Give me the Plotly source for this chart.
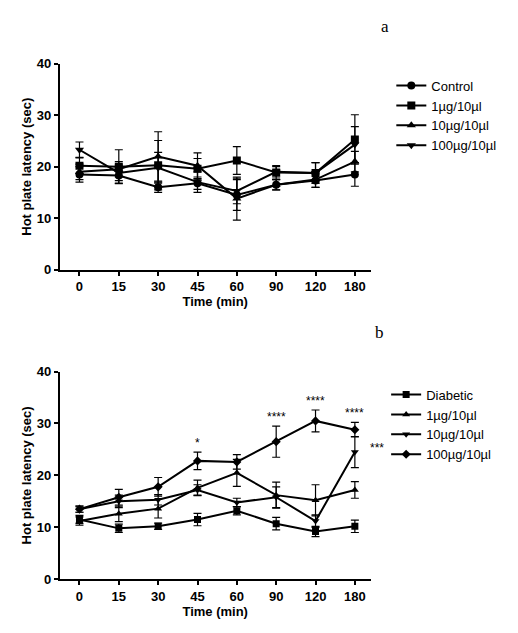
import plotly.graph_objects as go

times = ["0", "15", "30", "45", "60", "90", "120", "180"]

a_names = ["Control", "1µg/10µl", "10µg/10µl", "100µg/10µl"]
a_symbols = ["circle", "square", "triangle-up", "triangle-down"]
a_vals = [
    [18.5, 18.3, 16.0, 16.8, 14.5, 16.5, 17.3, 18.5],
    [20.2, 20.0, 20.3, 19.6, 21.2, 18.9, 18.8, 25.3],
    [19.0, 19.5, 22.0, 20.2, 13.8, 16.5, 17.5, 21.0],
    [23.3, 18.8, 19.8, 17.0, 15.3, 19.0, 18.8, 24.3],
]
a_err = [
    [1.5, 1.5, 1.0, 1.2, 3.0, 1.0, 1.3, 2.3],
    [1.5, 3.3, 4.8, 2.0, 2.7, 1.3, 2.0, 4.8],
    [1.5, 1.5, 4.8, 2.5, 4.2, 1.0, 1.5, 2.0],
    [1.5, 1.5, 3.0, 2.0, 2.5, 1.0, 2.0, 3.5],
]

b_names = ["Diabetic", "1µg/10µl", "10µg/10µl", "100µg/10µl"]
b_symbols = ["square", "triangle-up", "triangle-down", "diamond"]
b_vals = [
    [11.5, 9.8, 10.2, 11.5, 13.2, 10.7, 9.2, 10.2],
    [11.2, 12.6, 13.6, 17.6, 20.5, 16.2, 15.2, 17.2],
    [13.5, 15.0, 15.3, 17.2, 14.8, 15.8, 11.2, 24.5],
    [13.5, 15.8, 17.8, 22.8, 22.6, 26.5, 30.5, 28.8],
]
b_err = [
    [0.8, 0.8, 0.6, 1.2, 0.8, 1.2, 1.0, 1.2],
    [0.8, 1.5, 1.8, 1.5, 2.6, 2.5, 3.0, 1.6],
    [0.6, 1.2, 1.0, 1.0, 0.8, 2.0, 1.2, 3.0],
    [0.6, 1.5, 1.8, 1.7, 1.4, 3.0, 2.1, 1.4],
]
b_stars = ["", "", "", "*", "", "****", "****", "****"]

fig = go.Figure()
for i in range(4):
    fig.add_trace(go.Scatter(
        x=times, y=a_vals[i], name=a_names[i], mode="lines+markers",
        line=dict(color="black", width=2),
        marker=dict(symbol=a_symbols[i], size=8, color="black"),
        error_y=dict(type="data", array=a_err[i], color="black", thickness=1.2, width=4),
        xaxis="x", yaxis="y", legend="legend"))
for i in range(4):
    fig.add_trace(go.Scatter(
        x=times, y=b_vals[i], name=b_names[i], mode="lines+markers",
        line=dict(color="black", width=2),
        marker=dict(symbol=b_symbols[i], size=7, color="black"),
        error_y=dict(type="data", array=b_err[i], color="black", thickness=1.2, width=4),
        xaxis="x2", yaxis="y2", legend="legend2"))

ann = []
for idx, (v, e, s) in enumerate(zip(b_vals[3], b_err[3], b_stars)):
    if s:
        ann.append(dict(x=idx, y=v + e, text=s, showarrow=False, yshift=9,
                        xref="x2", yref="y2", font=dict(size=12, color="black")))
ann.append(dict(x=7, y=b_vals[2][7], text="***", showarrow=False, xshift=22, yshift=4,
                xref="x2", yref="y2", font=dict(size=12, color="black")))
ann.append(dict(x=0.74, y=1.0, xref="paper", yref="paper", text="a", showarrow=False,
                yanchor="top", font=dict(family="Liberation Serif", size=17, color="black")))
ann.append(dict(x=0.73, y=0.505, xref="paper", yref="paper", text="b", showarrow=False,
                yanchor="top", font=dict(family="Liberation Serif", size=17, color="black")))

axfont = dict(family="Liberation Sans", size=13, color="black")
xcommon = dict(type="category", range=[-0.5, 7.4], showline=True, linecolor="black", linewidth=2,
               ticks="outside", ticklen=4, tickwidth=2, tickcolor="black",
               tickfont=dict(family="Liberation Sans", size=13, color="black", weight="bold"),
               showgrid=False, zeroline=False,
               title=dict(text="<b>Time (min)</b>", font=axfont, standoff=2))
ycommon = dict(range=[0, 40], dtick=10, showline=True, linecolor="black", linewidth=2,
               ticks="outside", ticklen=4, tickwidth=2, tickcolor="black",
               tickfont=dict(family="Liberation Sans", size=13, color="black", weight="bold"),
               showgrid=False, zeroline=False,
               title=dict(text="<b>Hot plate latency (sec)</b>", font=axfont, standoff=2))

fig.update_layout(
    width=518, height=633, margin=dict(l=0, r=0, t=0, b=0),
    plot_bgcolor="white", paper_bgcolor="white",
    font=dict(family="Liberation Sans", color="black"),
    xaxis=dict(domain=[0.10, 0.70], anchor="y", **xcommon),
    yaxis=dict(domain=[0.588, 0.921], anchor="x", **ycommon),
    xaxis2=dict(domain=[0.10, 0.70], anchor="y2", **xcommon),
    yaxis2=dict(domain=[0.087, 0.423], anchor="x2", **ycommon),
    legend=dict(x=0.74, y=0.91, xanchor="left", yanchor="top", font=dict(size=13),
                bgcolor="rgba(0,0,0,0)", tracegroupgap=0),
    legend2=dict(x=0.73, y=0.41, xanchor="left", yanchor="top", font=dict(size=13),
                 bgcolor="rgba(0,0,0,0)", tracegroupgap=0),
    annotations=ann,
)
fig.write_html("out.html")
